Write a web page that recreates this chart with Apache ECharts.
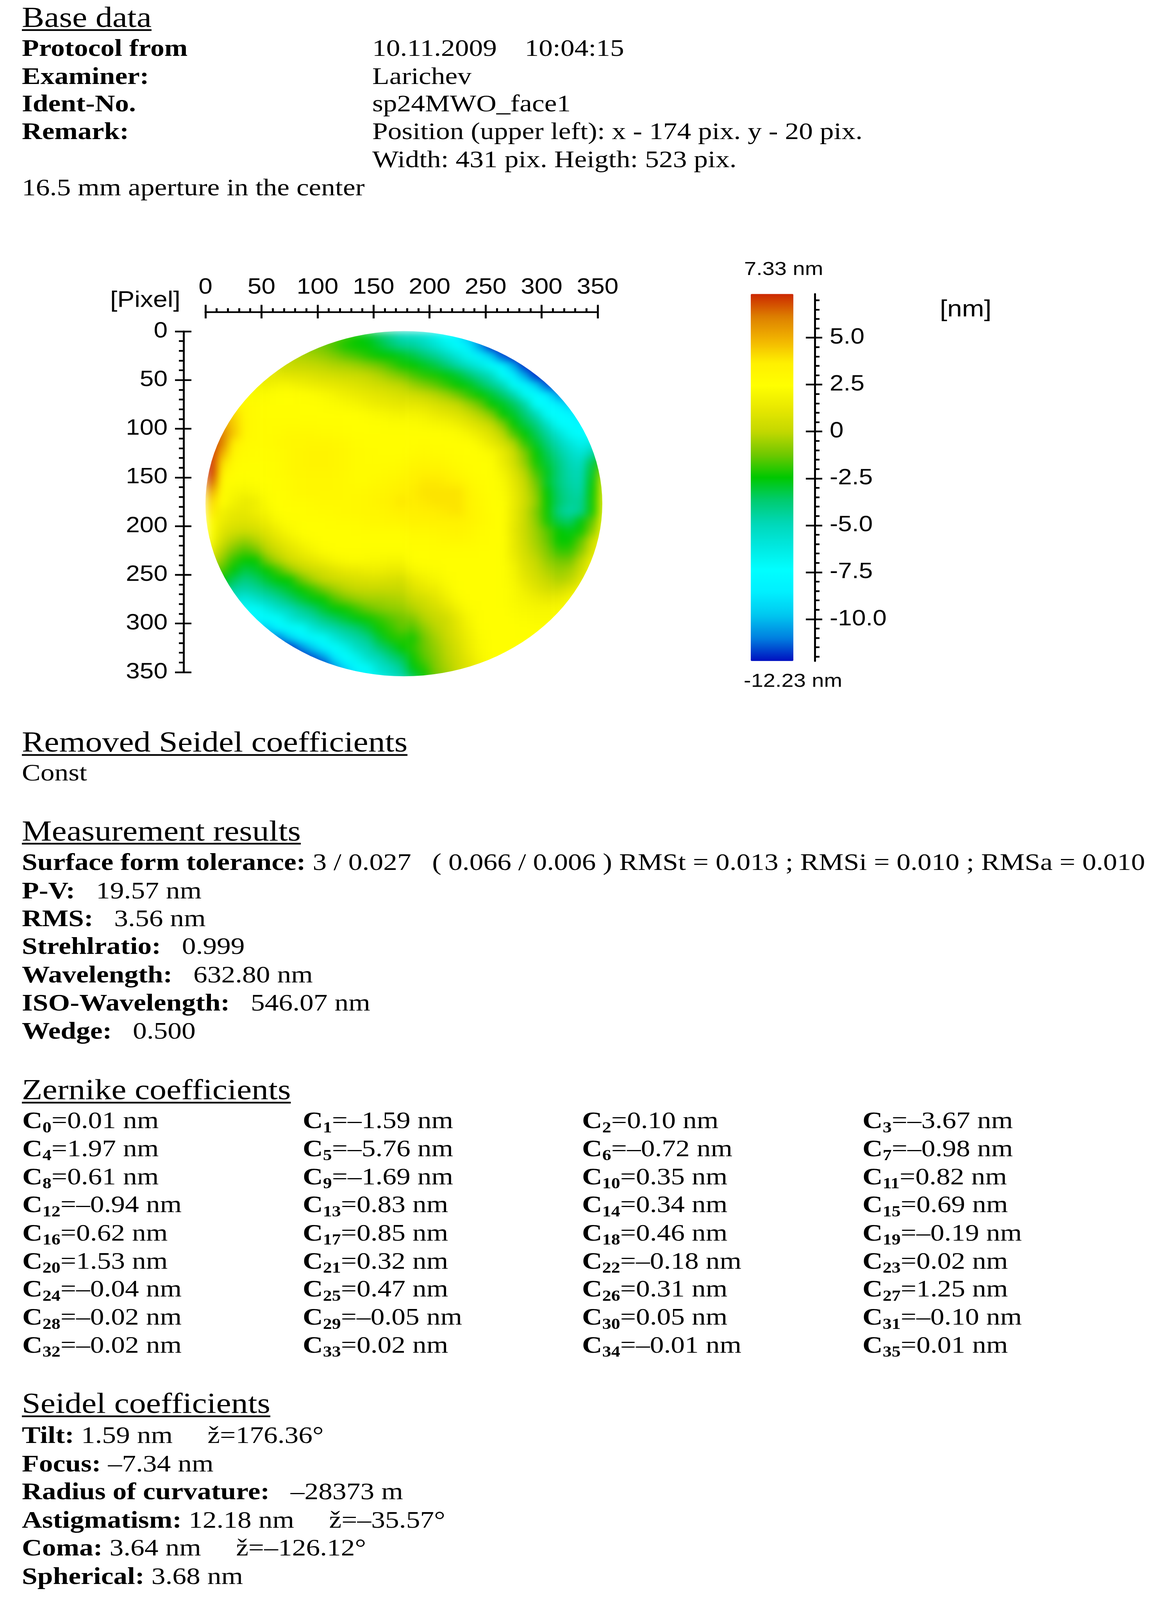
<!DOCTYPE html>
<html>
<head>
<meta charset="utf-8">
<title>Base data</title>
<script src="https://cdn.jsdelivr.net/npm/echarts@6/dist/echarts.min.js"></script>
<style>
html,body{margin:0;padding:0;background:#fff;}
#page{position:relative;width:2962px;height:4708px;overflow:hidden;background:#fff;transform-origin:0 0;}
#chart{position:absolute;left:0;top:0;width:2962px;height:4708px;}
/* the map gets its own layer: soft colour transitions and the round aperture */
#surface{position:absolute;left:526px;top:975px;width:1033px;height:1032px;filter:blur(12px);clip-path:circle(508px at 508px 507px);}
.t{position:absolute;white-space:pre;color:#000;font-family:"Liberation Serif",serif;font-size:71.5px;line-height:100px;}
.h{font-size:86px;text-decoration:underline;text-decoration-thickness:5px;text-underline-offset:7px;}
.t sub{font-size:46px;font-weight:bold;line-height:0;vertical-align:-12px;}
</style>
</head>
<body>
<div id="page">
  <div id="surface"></div>
  <div id="chart"></div>
</div>
<script>
// report text
var baseDataLabels = ['Protocol from', 'Examiner:', 'Ident-No.', 'Remark:'];
var baseDataValues = ['10.11.2009    10:04:15', 'Larichev', 'sp24MWO_face1', 'Position (upper left): x - 174 pix. y - 20 pix.', 'Width: 431 pix. Heigth: 523 pix.'];
var apertureNote = '16.5 mm aperture in the center';
var removedSeidel = 'Const';
var measureLabels = ['Surface form tolerance:', 'P-V:', 'RMS:', 'Strehlratio:', 'Wavelength:', 'ISO-Wavelength:', 'Wedge:'];
var measureValues = [' 3 / 0.027   ( 0.066 / 0.006 ) RMSt = 0.013 ; RMSi = 0.010 ; RMSa = 0.010', '   19.57 nm', '   3.56 nm', '   0.999', '   632.80 nm', '   546.07 nm', '   0.500'];
var zernikeValues = ['0.01', '–1.59', '0.10', '–3.67', '1.97', '–5.76', '–0.72', '–0.98', '0.61', '–1.69', '0.35', '0.82',
  '–0.94', '0.83', '0.34', '0.69', '0.62', '0.85', '0.46', '–0.19', '1.53', '0.32', '–0.18', '0.02',
  '–0.04', '0.47', '0.31', '1.25', '–0.02', '–0.05', '0.05', '–0.10', '–0.02', '0.02', '–0.01', '0.01'];
var seidelLabels = ['Tilt:', 'Focus:', 'Radius of curvature:', 'Astigmatism:', 'Coma:', 'Spherical:'];
var seidelValues = [' 1.59 nm     ž=176.36°', ' –7.34 nm', '   –28373 m', ' 12.18 nm     ž=–35.57°', ' 3.64 nm     ž=–126.12°', ' 3.68 nm'];

// colour scale
var scaleMin = -12.23;
var scaleMax = 7.33;
var scaleColors = ['#0010c0', '#0080e0', '#00c8f0', '#00f0ff', '#00ffff', '#00e8e0', '#00d8b8', '#00cc70', '#00c800',
  '#70c800', '#c4d800', '#e8e800', '#ffff00', '#fff000', '#f2b400', '#dd8000', '#cc2800'];
var scaleTicks = [5, 2.5, 0, -2.5, -5, -7.5, -10];
var scaleMinorTicks = [7, 6.5, 6, 5.5, 4.5, 4, 3.5, 3, 2, 1.5, 1, 0.5, -0.5, -1, -1.5, -2, -3, -3.5, -4, -4.5,
  -5.5, -6, -6.5, -7, -8, -8.5, -9, -9.5, -10.5, -11, -11.5, -12];

// surface in nm, read per 10 pixel cell, top row first
var _ = null;
var surfaceRows = [
  [_,_,_,_,_,_,_,_,_,_,-1,-1.3,-1.8,-2.3,-2.8,-3.5,-4.2,-5, -5.3,-5.7,-6.5,-7.3,-8.5,-10,-11,-12,_,_,_,_,_,_,_,_,_,_],
  [_,_,_,_,_,_,_,_,-0.8,-1,-1.2,-1.7,-2.2,-2.4,-2.5,-3,-3.6,-4.2, -4.4,-4.9,-5.7,-6.6,-7.3,-8.5,-10.5,-12,-12.2,_,_,_,_,_,_,_,_,_],
  [_,_,_,_,_,_,_,-0.2,-0.3,-0.5,-0.7,-1,-1.4,-1.7,-2.1,-2.4,-2.5,-2.8, -3.2,-3.7,-4.3,-5,-6,-6.9,-8.2,-9.5,-11.5,-12.2,-12.2,_,_,_,_,_,_,_],
  [_,_,_,_,_,_,0.3,0.2,0.1,0,-0.1,-0.3,-0.4,-0.6,-0.9,-1.2,-1.7,-2.2, -2.4,-2.8,-3.2,-3.8,-4.6,-5.4,-6.3,-7.3,-8,-10.2,-12,-12.2,_,_,_,_,_,_],
  [_,_,_,_,1.2,1.2,1.1,1,0.9,0.8,0.6,0.5,0.3,0.2,0,-0.3,-0.7,-1.1, -1.6,-2,-2.2,-2.6,-3,-3.7,-4.5,-5.3,-7.3,-8.5,-10.3,-12,-12.2,-12.2,_,_,_,_],
  [_,_,_,1.8,1.8,1.7,1.9,1.9,1.7,1.5,1.3,1.2,1,0.8,0.6,0.4,0.1,-0.1, -0.6,-1,-1.4,-1.9,-2.4,-2.7,-3.4,-4.2,-5,-7.2,-8,-9.5,-11.5,-12,-12.2,_,_,_],
  [_,_,2.4,2.3,2.2,2.3,2.4,2.5,2.5,2.3,2.1,1.9,1.6,1.4,1.2,1,0.8,0.6, 0.4,0.1,-0.2,-0.6,-1.2,-1.9,-2.4,-3,-3.7,-4.8,-7,-7.4,-8.6,-10.5,-11.5,-12,_,_],
  [_,3.4,3.2,3,2.7,2.6,2.5,2.5,2.5,2.5,2.4,2.3,2.1,1.9,1.7,1.5,1.3,1.2, 1.2,1,0.7,0.4,0,-0.6,-1.3,-2.4,-2.8,-3.5,-4.6,-7.3,-7.6,-8.5,-9.5,-10,-10.5,_],
  [5.5,5,4.2,3.1,2.8,2.6,2.6,2.6,2.5,2.5,2.5,2.5,2.5,2.4,2.3,2.1,1.9,1.8, 1.9,1.7,1.4,1.1,0.8,0.3,-0.3,-1,-2.4,-2.9,-3.8,-5,-7.2,-7.4,-8,-9,-9.5,_],
  [6,5.5,4.4,3.2,2.8,2.7,2.7,2.7,2.7,2.7,2.6,2.6,2.5,2.5,2.5,2.4,2.3,2.3, 2.3,2.1,2,1.9,1.6,1.1,0.6,0,-1,-2.4,-3.2,-4,-5.5,-7.2,-7.4,-8,-8.5,_],
  [7,6,4.5,3.1,2.8,2.7,2.8,2.9,2.9,2.9,2.8,2.7,2.6,2.5,2.5,2.5,2.5,2.5, 2.5,2.5,2.5,2.5,2.3,1.9,1.4,0.8,-0.1,-1.6,-2.5,-3.4,-4.5,-5.8,-7,-7.4,-7.4,-7],
  [7.2,6,3.7,2.9,2.7,2.7,2.9,3,3.1,3.2,3.2,3.1,2.9,2.7,2.6,2.6,2.6,2.6, 2.6,2.7,2.6,2.6,2.6,2.5,2,1.3,0.6,-0.3,-1.9,-2.9,-3.9,-4.9,-6,-6.7,-6.2,-5],
  [7.2,5,3.1,2.8,2.6,2.6,2.8,3,3.2,3.3,3.3,3.2,3,2.8,2.7,2.6,2.6,2.6, 2.8,2.9,2.8,2.7,2.6,2.5,2.5,2.2,1.4,0.3,-1,-2.4,-3.4,-4.4,-5.3,-5.9,-4.8,-3],
  [7.3,4,2.8,2.6,2.5,2.5,2.7,3,3.2,3.3,3.3,3.2,3,2.8,2.7,2.7,2.7,2.8, 3.1,3.2,3.1,2.9,2.7,2.6,2.5,2.4,1.5,0.5,-0.7,-2.2,-3.1,-4,-4.9,-5.3,-3.3,-1.8],
  [7.3,3.4,2.6,2.5,2.4,2.5,2.7,2.9,3.1,3.2,3.2,3.1,2.9,2.8,2.7,2.8,2.9,3, 3.4,3.6,3.5,3.3,3,2.7,2.5,2.5,1.9,0.9,-0.2,-1.7,-2.8,-3.9,-4.7,-4.9,-2.9,-0.3],
  [6.6,2.8,2.4,2.3,2.4,2.5,2.6,2.8,3,3.1,3.1,3,2.9,2.8,2.8,3,3.2,3.4, 3.6,3.8,3.8,3.7,3.6,3,2.7,2.5,2.2,1.2,0.1,-1.2,-2.9,-3.9,-4.6,-4.8,-2.6,0.8],
  [5.2,2.6,2.1,1.9,2.1,2.4,2.5,2.7,2.9,3,3,3,2.9,2.9,3,3.2,3.4,3.6, 3.7,3.9,3.9,3.9,3.9,3.3,2.8,2.5,2.3,1.4,0.3,-0.9,-2.5,-3.7,-4.4,-4.6,-2.4,1],
  [4.2,2.5,1.8,1.4,1.6,2.3,2.5,2.6,2.7,2.8,2.9,2.9,2.9,3,3.1,3.3,3.6,3.8, 3.7,3.8,3.9,3.9,3.9,3.4,2.9,2.6,2.4,1.5,0.4,-0.7,-2.4,-3.6,-4.3,-4.3,-2.3,1.2],
  [3.8,1.8,1.3,1.2,1.6,2,2.4,2.5,2.6,2.7,2.8,2.8,2.9,3,3.1,3.2,3.4,3.6, 3.6,3.7,3.7,3.8,3.9,3.4,3,2.6,2.5,1.3,0.2,-1,-2.3,-4,-4.6,-4.2,-2.3,1.3],
  [2.8,1.5,1,0.9,1.1,1.6,2.1,2.4,2.5,2.5,2.5,2.6,2.7,2.8,2.9,3,3.1,3.2, 3.4,3.4,3.5,3.5,3.5,3.3,3,2.7,2.5,1.3,0.2,-0.8,-2.2,-3.3,-3.6,-2.6,-1.4,1.6],
  [2.4,1,0.5,0.3,0.5,1,1.6,2.1,2.4,2.5,2.5,2.5,2.5,2.6,2.7,2.7,2.7,2.7, 3,3,3.1,3.2,3.3,3.1,2.8,2.6,2.5,1.2,0.2,-0.6,-1.5,-2.4,-2.7,-2.3,-0.8,1.8],
  [2.2,0.5,-0.3,-0.7,-0.3,0.4,1,1.6,2,2.3,2.5,2.5,2.5,2.5,2.5,2.5,2.5,2.5, 2.7,2.7,2.8,2.9,3,2.9,2.7,2.6,2.5,1.3,0.3,-0.5,-1.3,-2.4,-2.4,-1.4,0.3,2],
  [1.5,-0.2,-1.1,-1.6,-1.2,-0.2,0.4,1,1.5,1.9,2.3,2.5,2.5,2.5,2.4,2.4,2.4,2.4, 2.5,2.5,2.6,2.6,2.6,2.6,2.5,2.5,2.4,1.4,0.5,-0.3,-1,-1.9,-1.9,-0.9,0.8,2.2],
  [0.5,-0.8,-1.9,-2.4,-2.4,-1.1,-0.3,0.4,0.8,1.2,1.6,2,2.2,2.3,2.2,2.1,2,2, 2.4,2.5,2.5,2.5,2.5,2.5,2.5,2.5,2.4,1.6,0.7,0,-0.7,-1.2,-1.2,-0.1,1.5,2.4],
  [-1,-1.5,-2.5,-3.2,-2.9,-2.4,-1.7,-0.7,-0.1,0.3,0.6,1,1.3,1.4,1.6,1.6,1.4,1.4, 2,2.2,2.3,2.5,2.5,2.5,2.5,2.5,2.4,1.9,0.9,0.3,-0.3,-0.7,-0.5,0.4,2,2.5],
  [-2,-2.5,-3.4,-4,-3.6,-3,-2.5,-2.4,-1.3,-0.5,0,0.3,0.5,0.7,0.8,0.8,0.7,0.6, 1.4,1.7,2,2.3,2.5,2.5,2.5,2.5,2.4,2,1.2,0.6,0.1,-0.3,-0.1,1,2.3,2.5],
  [-3,-3.5,-4.5,-4.7,-4.4,-3.9,-3.4,-2.9,-2.4,-1.9,-1.2,-0.6,-0.2,0,0.1,0.1,0.1,0.1, 0.8,1.2,1.5,2,2.4,2.5,2.5,2.5,2.4,2.2,1.6,1,0.6,0.5,1,1.9,2.5,2.5],
  [-4.5,-5,-5.5,-6.2,-5.5,-4.9,-4.4,-3.7,-3.1,-2.6,-2.4,-1.6,-1.1,-0.7,-0.5,-0.5,-0.4,-0.3, 0.2,0.5,1,1.6,2.2,2.5,2.5,2.5,2.4,2.2,1.9,1.6,1.4,1.5,2,2.4,2.4,2.4],
  [_,-6.5,-7,-7,-7.2,-6.4,-5.5,-5,-4.3,-3.7,-3,-2.5,-2.3,-1.8,-1.3,-1,-0.8,-0.7, -0.3,0.1,0.5,1,1.7,2.3,2.5,2.5,2.5,2.3,2.1,2,2,2.1,2.3,2.4,2.4,_],
  [_,_,-7.5,-8,-8,-7.4,-7.2,-6,-5.2,-4.7,-4,-3.5,-3,-2.6,-2.3,-1.9,-1.5,-1.2, -1,-0.3,0.1,0.4,1.2,2,2.5,2.5,2.5,2.4,2.3,2.2,2.2,2.3,2.4,2.4,_,_],
  [_,_,_,-9,-9.5,-9.5,-8,-7.5,-7.3,-6,-5.2,-4.7,-4.2,-3.7,-3.1,-2.3,-1.9,-1.4, -1.6,-0.8,-0.2,0.3,1,1.8,2.4,2.5,2.5,2.5,2.4,2.4,2.4,2.4,_,_,_,_],
  [_,_,_,_,-10.5,-11,-11,-9.5,-8.5,-7.6,-7.2,-6,-5.1,-4.6,-4.1,-3,-2.2,-2, -2.2,-1.2,-0.5,0.1,0.8,1.6,2.3,2.5,2.5,2.5,2.5,2.5,2.5,_,_,_,_,_],
  [_,_,_,_,_,_,-12,-12,-10.8,-9.7,-8.3,-7.4,-6.6,-5.3,-4.8,-3.8,-3.2,-2.4, -2,-1.3,-0.7,-0.1,0.6,1.5,2.2,2.5,2.5,2.5,2.5,2.5,_,_,_,_,_,_],
  [_,_,_,_,_,_,_,-12.2,-12.2,-11.5,-10.6,-8.8,-7.4,-6.7,-5.4,-4.9,-4,-3.4, -2.3,-1.5,-0.9,-0.2,0.4,1.2,2,2.4,2.5,2.5,2.5,_,_,_,_,_,_,_],
  [_,_,_,_,_,_,_,_,_,-12.2,-12.2,-10.5,-9,-7.6,-7.1,-5.6,-5,-4.2, -2.6,-2,-1,-0.4,0.3,1,1.8,2.3,2.4,_,_,_,_,_,_,_,_,_],
  [_,_,_,_,_,_,_,_,_,_,_,-12,-10.5,-9,-7.8,-6.5,-5.5,-4.8, -3.4,-2.4,-1.3,-0.6,0.1,0.8,1.5,2,_,_,_,_,_,_,_,_,_,_]
];

// text helpers, y is the baseline
function putText(x, y, html, heading) {
  var el = document.createElement('div');
  el.className = heading ? 't h' : 't';
  el.style.left = x + 'px';
  el.style.top = (y - (heading ? 79 : 74)) + 'px';
  el.innerHTML = html;
  document.getElementById('page').appendChild(el);
}
function labelled(x, y, label, value) {
  putText(x, y, '<b>' + label + '</b>' + value);
}

putText(56, 79, 'Base data', true);
var baseY = [164, 247, 328, 409];
baseDataLabels.forEach(function (s, i) { labelled(56, baseY[i], s, ''); });
baseDataValues.forEach(function (s, i) { putText(953, i < 4 ? baseY[i] : 492, s); });
putText(56, 575, apertureNote);

putText(56, 2212, 'Removed Seidel coefficients', true);
putText(56, 2297, removedSeidel);

putText(56, 2473, 'Measurement results', true);
var measureY = [2560, 2644, 2725, 2807, 2891, 2973, 3056];
measureLabels.forEach(function (s, i) { labelled(56, measureY[i], s, measureValues[i]); });

putText(56, 3235, 'Zernike coefficients', true);
var zernikeX = [57, 775, 1490, 2208];
var zernikeY = [3320, 3402, 3485, 3567, 3650, 3733, 3815, 3898, 3980];
zernikeValues.forEach(function (s, i) {
  putText(zernikeX[i % 4], zernikeY[Math.floor(i / 4)], '<b>C</b><sub>' + i + '</sub>=' + s + ' nm');
});

putText(56, 4158, 'Seidel coefficients', true);
var seidelY = [4246, 4330, 4412, 4495, 4577, 4661];
seidelLabels.forEach(function (s, i) { labelled(56, seidelY[i], s, seidelValues[i]); });

// a window shorter than the page would cut off the last section, so fit the height
var fit = Math.min(1, window.innerHeight / 4708);
if (fit < 1) {
  document.getElementById('page').style.transform = 'scaleY(' + fit + ')';
  document.body.style.height = window.innerHeight + 'px';
  document.body.style.overflow = 'hidden';
}

// map layer
var surfaceCells = [];
var surfaceBins = [];
surfaceRows.forEach(function (row, j) {
  surfaceBins.push(j * 10);
  row.forEach(function (v, i) {
    if (v !== null) surfaceCells.push([i, j, v]);
  });
});
var surfaceChart = echarts.init(document.getElementById('surface'));
surfaceChart.setOption({
  animation: false,
  grid: { left: 0, right: 0, top: 0, bottom: 0 },
  xAxis: { type: 'category', data: surfaceBins, show: false },
  yAxis: { type: 'category', data: surfaceBins, inverse: true, show: false },
  visualMap: { show: false, min: scaleMin, max: scaleMax, inRange: { color: scaleColors } },
  series: [{ type: 'heatmap', data: surfaceCells, itemStyle: { borderWidth: 0 } }]
});

// axes and colour bar
var axisFont = '"Liberation Sans", Arial, sans-serif';
var axisLineStyle = { color: '#000', width: 5 };
function labelStyle(margin) {
  return { show: true, color: '#000', fontFamily: axisFont, fontSize: 64, margin: margin };
}
var chart = echarts.init(document.getElementById('chart'));
chart.setOption({
  animation: false,
  grid: [
    { left: 526, top: 975, width: 1004, height: 1003 },
    { left: 1922, top: 865, width: 109, height: 1080 }
  ],
  xAxis: [
    {
      gridIndex: 0, type: 'value', position: 'top', offset: 57, min: 0, max: 350, interval: 50,
      axisLine: { show: true, onZero: false, lineStyle: axisLineStyle },
      axisTick: { show: true, length: 21, lineStyle: axisLineStyle },
      minorTick: { show: true, splitNumber: 5, length: 11, lineStyle: axisLineStyle },
      axisLabel: Object.assign(labelStyle(40), { showMinLabel: true, showMaxLabel: true, hideOverlap: false }),
      splitLine: { show: false }
    },
    {
      gridIndex: 0, type: 'value', position: 'top', offset: 57, min: 0, max: 350, interval: 50,
      axisLine: { show: false, onZero: false },
      axisTick: { show: true, inside: true, length: 19, lineStyle: axisLineStyle },
      axisLabel: { show: false },
      splitLine: { show: false }
    },
    { gridIndex: 1, type: 'value', show: false, min: 0, max: 1 }
  ],
  yAxis: [
    {
      gridIndex: 0, type: 'value', position: 'left', inverse: true, offset: 56, min: 0, max: 350, interval: 50,
      axisLine: { show: true, onZero: false, lineStyle: axisLineStyle },
      axisTick: { show: true, length: 22, lineStyle: axisLineStyle },
      minorTick: { show: true, splitNumber: 5, length: 12, lineStyle: axisLineStyle },
      axisLabel: Object.assign(labelStyle(41), { showMinLabel: true, showMaxLabel: true, hideOverlap: false }),
      splitLine: { show: false }
    },
    {
      gridIndex: 0, type: 'value', position: 'left', inverse: true, offset: 56, min: 0, max: 350, interval: 50,
      axisLine: { show: false, onZero: false },
      axisTick: { show: true, inside: true, length: 20, lineStyle: axisLineStyle },
      axisLabel: { show: false },
      splitLine: { show: false }
    },
    {
      gridIndex: 1, type: 'value', position: 'right', offset: 55, min: scaleMin, max: scaleMax,
      axisLine: { show: true, onZero: false, lineStyle: axisLineStyle },
      axisTick: { show: true, length: 19, customValues: scaleTicks, lineStyle: axisLineStyle },
      axisLabel: Object.assign(labelStyle(38), {
        customValues: scaleTicks,
        formatter: function (v) { return v === 0 ? '0' : v.toFixed(1); }
      }),
      splitLine: { show: false }
    },
    {
      gridIndex: 1, type: 'value', position: 'right', offset: 55, min: scaleMin, max: scaleMax,
      axisLine: { show: false, onZero: false },
      axisTick: { show: true, inside: true, length: 23, customValues: scaleTicks, lineStyle: axisLineStyle },
      axisLabel: { show: false },
      splitLine: { show: false }
    },
    {
      gridIndex: 1, type: 'value', position: 'right', offset: 55, min: scaleMin, max: scaleMax,
      axisLine: { show: false, onZero: false },
      axisTick: { show: true, length: 12, customValues: scaleMinorTicks, lineStyle: axisLineStyle },
      axisLabel: { show: false },
      splitLine: { show: false }
    }
  ],
  visualMap: {
    seriesIndex: [], min: scaleMin, max: scaleMax, left: 1922, top: 865, itemWidth: 109, itemHeight: 1080,
    padding: 0, calculable: false, hoverLink: false, text: null, showLabel: false, inRange: { color: scaleColors }
  },
  graphic: [
    { type: 'text', left: 282, top: 852, style: { text: '[Pixel]', fill: '#000', font: '66px ' + axisFont } },
    { type: 'text', left: 1905, top: 766, style: { text: '7.33 nm', fill: '#000', font: '56px ' + axisFont } },
    { type: 'text', left: 1904, top: 1978, style: { text: '-12.23 nm', fill: '#000', font: '56px ' + axisFont } },
    { type: 'text', left: 2406, top: 878, style: { text: '[nm]', fill: '#000', font: '68px ' + axisFont } }
  ],
  series: []
});
</script>
</body>
</html>
